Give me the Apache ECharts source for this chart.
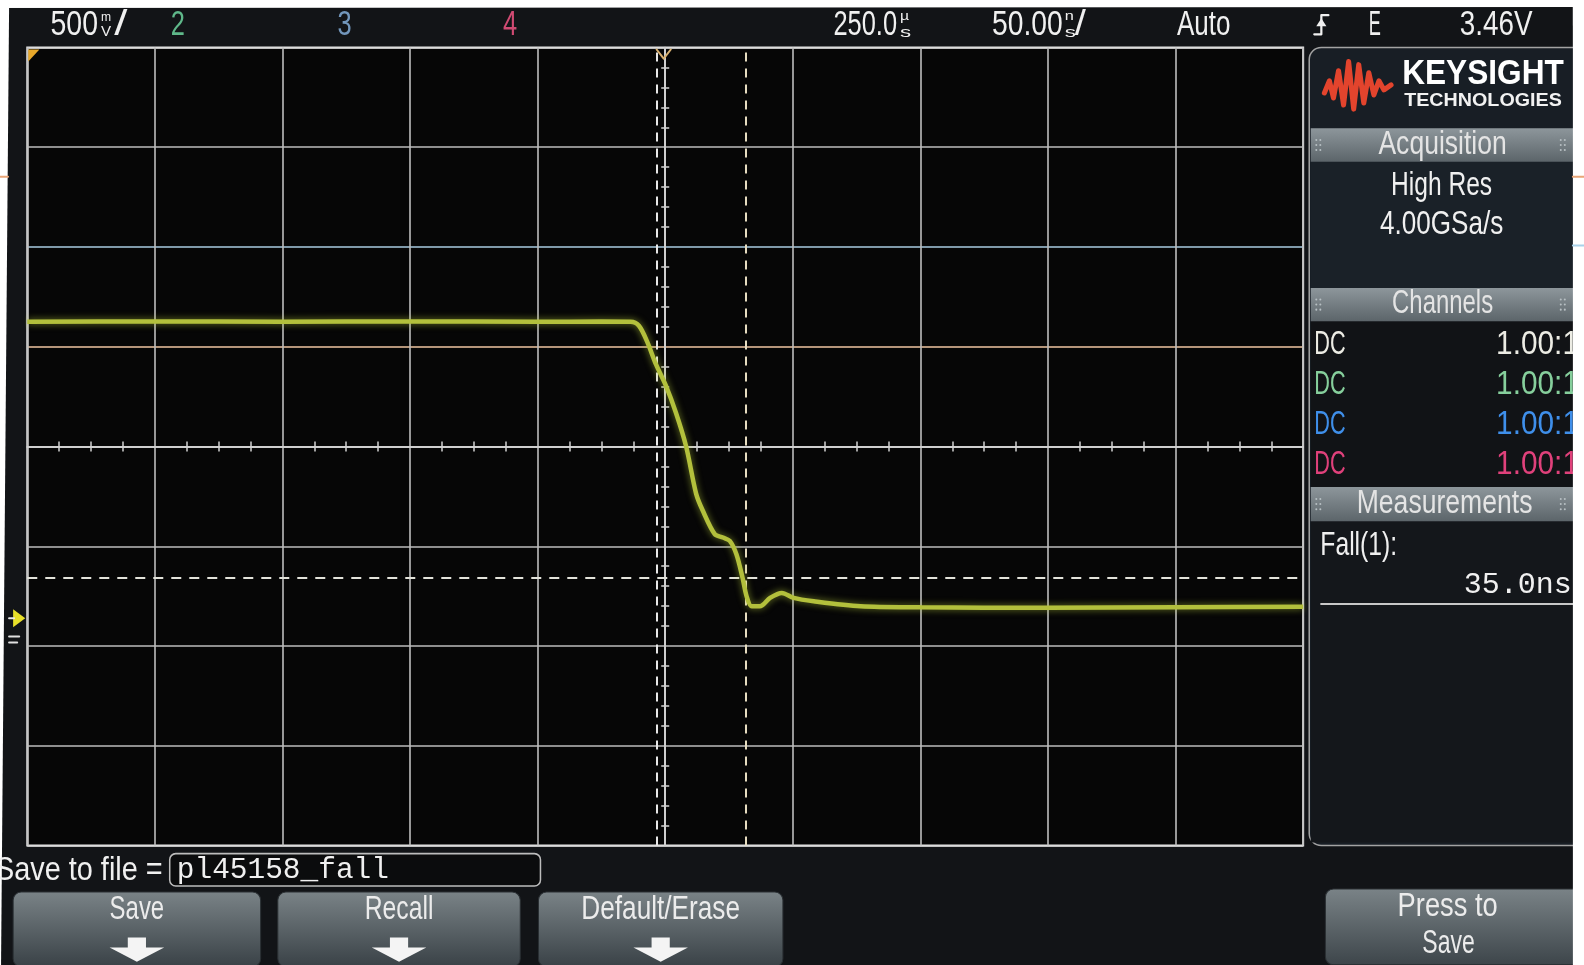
<!DOCTYPE html>
<html><head><meta charset="utf-8">
<script src="https://cdn.jsdelivr.net/npm/echarts@6/dist/echarts.min.js"></script>
<style>html,body{margin:0;padding:0;background:#fff;overflow:hidden}#c{width:1584px;height:965px}</style>
</head><body><div id="c"></div>
<script>
// ---------- data ----------
const timeNs = [-250, -200, -150, -100, -50, -25, -13.6, -10.3, -7.0, -3.7, 0.3, 4.2, 8.2, 12.1, 14.7, 19.4, 22.6, 25.3, 27.9, 30.3, 31.9, 33.9, 37.1, 41.1, 45.7, 50.3, 58.2, 76.6, 100, 150, 200, 250];
const ch1Volts = [0.625, 0.627, 0.625, 0.627, 0.625, 0.626, 0.625, 0.605, 0.523, 0.414, 0.304, 0.169, 0.0, -0.236, -0.321, -0.439, -0.456, -0.473, -0.540, -0.658, -0.751, -0.801, -0.801, -0.759, -0.734, -0.759, -0.776, -0.801, -0.806, -0.808, -0.806, -0.803];
const timeRangeNs = [-250, 250];
const timePerDivNs = 50;
const voltRange = [-2, 2];
const voltPerDiv = 0.5;
const cursorTimesNs = [-3.5, 31.5];
const cursorLevelsV = [-0.662];
const channelNames = ['2', '3', '4'];
const channelCouplings = ['DC', 'DC', 'DC', 'DC'];
const channelProbes = ['1.00:1', '1.00:1', '1.00:1', '1.00:1'];
const acquisitionLines = ['High Res', '4.00GSa/s'];
const measurementName = 'Fall(1):';
const measurementValue = '35.0ns';
const softkeys = ['Save', 'Recall', 'Default/Erase'];
const fileName = 'pl45158_fall';

// ---------- helpers ----------
const S = 1584 / 1568; // layout was measured on a 1568-wide view
const SANS = "'Liberation Sans', Arial, sans-serif";
const MONO = "'Liberation Mono', 'DejaVu Sans Mono', monospace";
const mctx = document.createElement('canvas').getContext('2d');
function T(text, x, y, o) {
  o = o || {};
  const size = o.size || 32, fam = o.font || SANS, wt = o.weight || 'normal';
  const font = wt + ' ' + size + 'px ' + fam;
  mctx.font = font;
  const nat = mctx.measureText(text).width || 1;
  const sx = o.w ? o.w / nat : (o.sx || 0.85);
  const al = o.align || 'left';
  return { type: 'text', x: x, y: y, scaleX: sx, z: o.z || 60, silent: true,
    style: { text: text, fill: o.color || '#f0f0f0', font: font, align: al, textAlign: al,
      verticalAlign: 'middle', textVerticalAlign: 'middle' } };
}
function grad(c1, c2) {
  return new echarts.graphic.LinearGradient(0, 0, 0, 1, [{ offset: 0, color: c1 }, { offset: 1, color: c2 }]);
}
function rect(x, y, w, h, fill, o) {
  o = o || {};
  return { type: 'rect', z: o.z || 40, silent: true, shape: { x: x, y: y, width: w, height: h, r: o.r || 0 },
    style: { fill: fill, stroke: o.stroke || null, lineWidth: o.lw || 0 } };
}
function poly(points, fill, o) {
  o = o || {};
  return { type: 'polygon', z: o.z || 60, silent: true, shape: { points: points }, style: { fill: fill, stroke: o.stroke || null, lineWidth: o.lw || 0 } };
}
function pline(points, stroke, lw, z) {
  return { type: 'polyline', z: z || 60, silent: true, shape: { points: points }, style: { stroke: stroke, lineWidth: lw, fill: null, lineJoin: 'round', lineCap: 'round' } };
}
function dots(x, y) {
  const out = [];
  for (let i = 0; i < 2; i++) for (let j = 0; j < 3; j++)
    out.push({ type: 'circle', z: 62, silent: true, shape: { cx: x + i * 4, cy: y - 5 + j * 5, r: 1 }, style: { fill: '#b8c0c4' } });
  return out;
}
function arrow(cx, y) {
  return poly([[cx - 9, y], [cx + 9, y], [cx + 9, y + 10], [cx + 27, y + 10], [cx, y + 24], [cx - 27, y + 10], [cx - 9, y + 10]], '#f4f4f4', { z: 62 });
}

const G = [];
// screen body
G.push(poly([[9, 8], [1557, 7], [1558, 959], [1, 960]], '#121417', { z: -100 }));
// right panel
G.push(rect(1296, 47, 280, 790, '#181e25', { r: 12, stroke: '#a3a3a3', lw: 1.5, z: 30 }));
G.push(rect(1297.5, 160, 270, 125, '#1a2128', { z: 31 }));
G.push(rect(1297.5, 318, 270, 164, '#111316', { z: 31 }));
G.push(rect(1297.5, 516, 270, 318, '#14171b', { z: 31 }));
[[127, 33], [285, 33], [482, 34]].forEach(function (h) {
  G.push(rect(1297.5, h[0], 270, h[1], grad('#8d969b', '#5c656a'), { z: 32 }));
  dots(1303, h[0] + h[1] / 2).forEach(function (d) { G.push(d); });
  dots(1545, h[0] + h[1] / 2).forEach(function (d) { G.push(d); });
});
// logo
G.push(pline([[1311, 92], [1316, 80], [1320, 97], [1325, 70], [1330, 104], [1335, 61], [1340, 108], [1345, 64], [1350, 102], [1355, 72], [1360, 94], [1365, 80], [1370, 89], [1377, 84]], '#e3442d', 5, 61));
G.push(T('KEYSIGHT', 1388, 74, { size: 34, weight: 'bold', w: 160, color: '#ffffff' }));
G.push(T('TECHNOLOGIES', 1390, 100, { size: 19, weight: 'bold', w: 156, color: '#f2f2f2' }));
// panel texts
G.push(T('Acquisition', 1428, 144, { w: 127, align: 'center', color: '#e4e4e4' }));
G.push(T(acquisitionLines[0], 1427, 184, { w: 100, align: 'center' }));
G.push(T(acquisitionLines[1], 1427, 223, { w: 122, align: 'center' }));
G.push(T('Channels', 1428, 301, { w: 100, align: 'center', color: '#e4e4e4' }));
const chColors = ['#ecece4', '#86cf9c', '#3f8fea', '#e0417b'];
const rowY = [342, 381, 421, 460];
channelCouplings.forEach(function (c, i) {
  G.push(T(c, 1301, rowY[i], { w: 31, color: chColors[i] }));
  G.push(T(channelProbes[i], 1481, rowY[i], { w: 82, color: chColors[i] }));
});
G.push(T('Measurements', 1430, 499, { w: 174, align: 'center', color: '#e4e4e4' }));
G.push(T(measurementName, 1307, 541, { w: 76 }));
G.push(T(measurementValue, 1556, 579, { size: 30, font: MONO, w: 107, align: 'right' }));
G.push(rect(1307, 597, 260, 2, '#c8c8c8', { z: 60 }));

// top status bar
G.push(T('500', 50, 25, { size: 34, w: 47 }));
G.push(T('m', 100, 17, { size: 13, w: 10 }));
G.push(T('V', 100, 32, { size: 14, w: 10 }));
G.push(T('/', 113, 25, { size: 34, w: 13 }));
const chNumColors = ['#5fb88a', '#7296bb', '#cf4a72'];
const chNumX = [169, 334, 498];
channelNames.forEach(function (n, i) { G.push(T(n, chNumX[i], 25, { size: 34, w: 14, color: chNumColors[i] })); });
G.push(T('250.0', 825, 25, { size: 34, w: 63 }));
G.push(T('µ', 891, 16, { size: 12, w: 9 }));
G.push(T('s', 891, 32, { size: 15, w: 11 }));
G.push(T('50.00', 982, 25, { size: 34, w: 70 }));
G.push(T('n', 1054, 16, { size: 12, w: 9 }));
G.push(T('s', 1054, 32, { size: 15, w: 11 }));
G.push(T('/', 1064, 25, { size: 34, w: 11 }));
G.push(T('Auto', 1165, 25, { size: 34, w: 53 }));
G.push(pline([[1301, 34], [1308, 34], [1308, 15], [1315, 15]], '#f0f0f0', 2.2, 62));
G.push(poly([[1303, 26], [1308, 18], [1313, 26]], '#f0f0f0', { z: 62 }));
G.push(T('E', 1355, 25, { size: 34, w: 12 }));
G.push(T('3.46V', 1445, 25, { size: 34, w: 72 }));

// plot markers
G.push(pline([[650, 49], [657, 58], [664, 49]], '#d8b070', 2, 62));
G.push(poly([[28, 49], [39, 49], [28, 61]], '#e8a82a', { z: 62 }));
G.push(poly([[13, 603], [25, 612], [13, 621]], '#e8e02a', { z: 62 }));
G.push(pline([[9, 612], [14, 612]], '#e8e8e8', 2, 62));
G.push(pline([[9, 630], [19, 630]], '#e0e0e0', 2, 62));
G.push(pline([[9, 636], [17, 636]], '#e0e0e0', 2, 62));

// bottom softkey area
G.push(T('Save to file =', 161, 862, { w: 166, align: 'right' }));
G.push(rect(168, 845, 367, 32, '#0b0c0d', { r: 6, stroke: '#bdbdbd', lw: 1.5, z: 40 }));
G.push(T(fileName, 175, 861, { size: 30, font: MONO, w: 210 }));
const keyBoxes = [[13, 883, 245, 74], [275, 883, 240, 74], [533, 883, 242, 74]];
const keyLabelW = [54, 68, 157];
softkeys.forEach(function (k, i) {
  const b = keyBoxes[i], cx = b[0] + b[2] / 2;
  G.push(rect(b[0], b[1], b[2], b[3], grad('#7a8387', '#394146'), { r: 8, stroke: '#2a2f33', lw: 1, z: 40 }));
  G.push(T(k, cx, 901, { w: keyLabelW[i], align: 'center', color: '#ececec' }));
  G.push(arrow(cx, 928));
});
G.push(rect(1312, 880, 260, 75, grad('#7a8387', '#3d454a'), { r: 8, stroke: '#2a2f33', lw: 1, z: 40 }));
G.push(T('Press to', 1433, 898, { w: 99, align: 'center', color: '#ececec' }));
G.push(T('Save', 1434, 935, { w: 52, align: 'center', color: '#ececec' }));

// paper margins and scan artefacts
G.push(rect(1557, 0, 30, 965, '#ffffff', { z: 200 }));
G.push(pline([[0, 175], [8, 175]], '#e9a577', 2, 201));
G.push(pline([[1557, 175], [1584, 175]], '#e9a577', 2, 201));
G.push(pline([[1557, 243], [1584, 243]], '#a9d2ea', 2, 201));

// ---------- axes ----------
const gridGray = '#bdbdbd';
const ySplitColors = ['#d8d8d8', gridGray, gridGray, gridGray, gridGray, '#efc6a2', '#a9cbe0', gridGray, '#d8d8d8'];
function xAx(pos, split) {
  return { type: 'value', min: timeRangeNs[0], max: timeRangeNs[1], interval: timePerDivNs, position: pos,
    axisLine: { show: true, onZero: true, onZeroAxisIndex: 0, lineStyle: { color: '#d2d2d2', width: 1.5 } },
    axisTick: { show: false }, axisLabel: { show: false },
    minorTick: { show: true, splitNumber: 4, length: 5, lineStyle: { color: '#d2d2d2', width: 1.5 } },
    splitLine: { show: split, lineStyle: { color: gridGray, width: 1.6 } }, minorSplitLine: { show: false } };
}
function yAx(pos, split) {
  return { type: 'value', min: voltRange[0], max: voltRange[1], interval: voltPerDiv, position: pos,
    axisLine: { show: true, onZero: true, onZeroAxisIndex: 0, lineStyle: { color: '#d2d2d2', width: 1.5 } },
    axisTick: { show: false }, axisLabel: { show: false },
    minorTick: { show: true, splitNumber: 5, length: 4, lineStyle: { color: '#d2d2d2', width: 1.5 } },
    splitLine: { show: split, lineStyle: { color: ySplitColors, width: 1.6 } }, minorSplitLine: { show: false } };
}

const markData = [];
cursorTimesNs.forEach(function (t, i) {
  markData.push({ xAxis: t, lineStyle: { color: i === 0 ? '#e8e8e8' : '#e6dcc0', type: [9, 7], width: 2 } });
});
cursorLevelsV.forEach(function (v) {
  markData.push({ yAxis: v, lineStyle: { color: '#e2e2da', type: [10, 8], width: 2 } });
});

const chart = echarts.init(document.getElementById('c'));
chart.setOption({
  animation: false,
  backgroundColor: '#ffffff',
  grid: { left: 27 * S, top: 47 * S, width: 1263 * S, height: 790 * S, show: true, backgroundColor: '#060606',
    borderColor: '#e6e6e6', borderWidth: 2, containLabel: false, outerBoundsMode: 'none' },
  xAxis: [xAx('bottom', true), xAx('top', false)],
  yAxis: [yAx('left', true), yAx('right', false)],
  series: [{
    type: 'line', xAxisIndex: 0, yAxisIndex: 0, z: 5,
    data: timeNs.map(function (t, i) { return [t, ch1Volts[i]]; }),
    showSymbol: false, smooth: 0.3,
    lineStyle: { color: '#b3c03c', width: 4.5, shadowBlur: 7, shadowColor: 'rgba(190,210,60,0.6)' },
    markLine: { silent: true, symbol: ['none', 'none'], label: { show: false }, animation: false, data: markData }
  }],
  graphic: { elements: [{ type: 'group', x: 0, y: 0, scaleX: S, scaleY: S, silent: true, children: G }] }
});
</script></body></html>
